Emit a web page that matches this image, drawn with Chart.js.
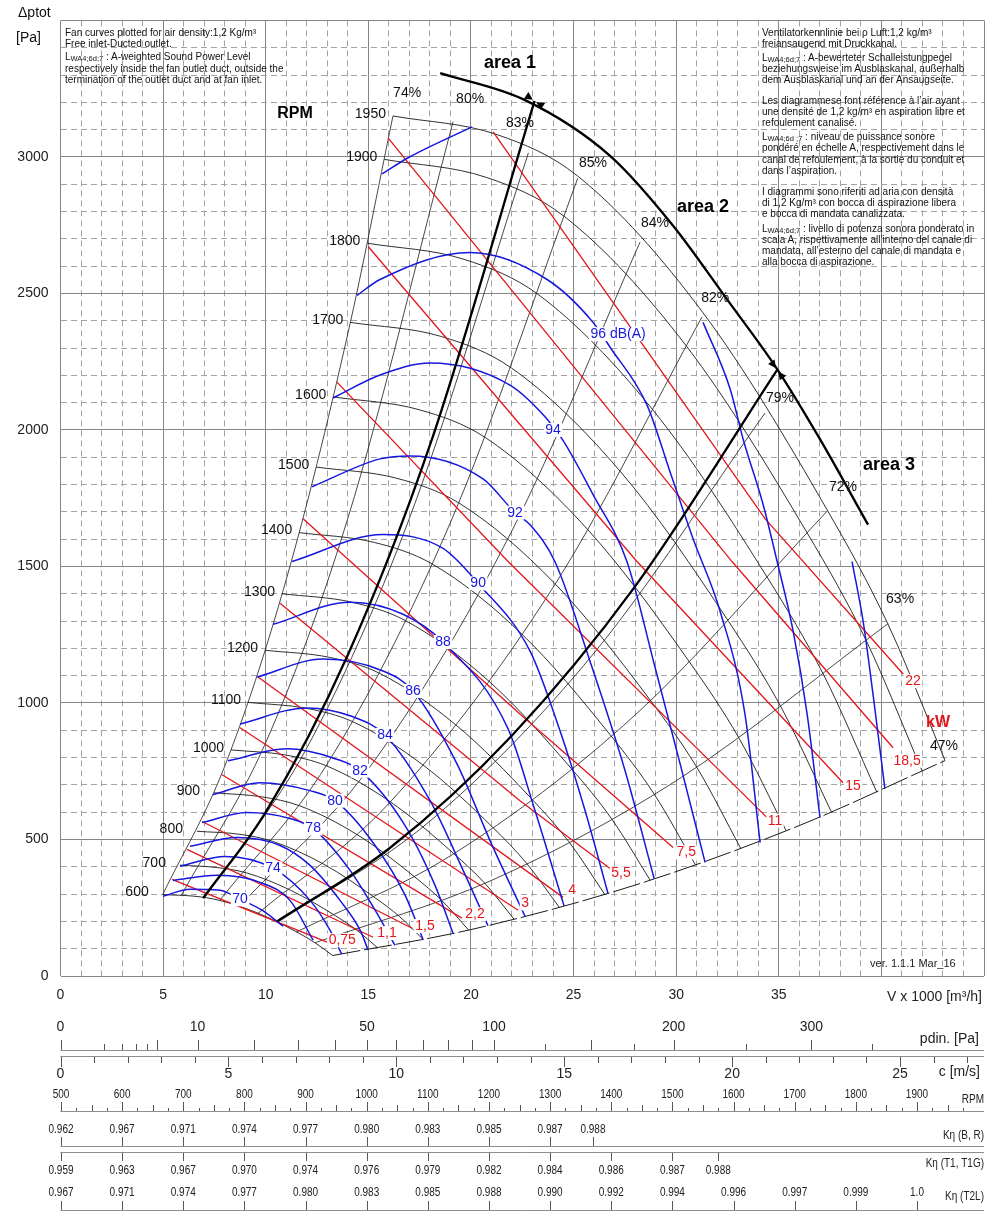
<!DOCTYPE html>
<html>
<head>
<meta charset="utf-8">
<script src="https://cdn.jsdelivr.net/npm/chart.js@4.4.1/dist/chart.umd.min.js"></script>
<style>
  html, body { margin: 0; padding: 0; background: #fff; }
  #wrap { position: relative; width: 1000px; height: 1219px; overflow: hidden;
          font-family: "Liberation Sans", Arial, sans-serif; color: #111; }
  #chart { position: absolute; left: 0; top: 0; }
  .t { position: absolute; font-size: 10px; line-height: 11px; white-space: nowrap; }
  .t .s { font-size: 7.5px; position: relative; top: 1.5px; }
  .ax { position: absolute; font-size: 14px; line-height: 16px; white-space: nowrap; }
</style>
</head>
<body>
<div id="wrap">
  <canvas id="chart" width="1000" height="1219"></canvas>
  <div class="ax" style="left:18px;top:4px">Δptot</div>
  <div class="ax" style="left:16px;top:29px">[Pa]</div>
</div>
<script>
// fan speed curves, [V x 1000 m3/h, ptot Pa]
const rpmSpeeds = [600, 700, 800, 900, 1000, 1100, 1200, 1300, 1400, 1500, 1600, 1700, 1800, 1900, 1950];
const rpmCurves = [
  [[4.98, 298], [6.55, 292], [7.75, 277], [9.63, 230], [11.49, 162], [12.40, 122], [13.26, 75]],
  [[5.82, 406], [7.65, 397], [9.05, 378], [11.24, 313], [13.41, 220], [14.47, 166], [15.47, 102]],
  [[6.65, 530], [8.74, 519], [10.34, 493], [12.84, 409], [15.32, 287], [16.53, 217], [17.68, 133]],
  [[7.48, 671], [9.83, 656], [11.63, 624], [14.45, 518], [17.24, 364], [18.60, 275], [19.89, 168]],
  [[8.31, 828], [10.92, 810], [12.92, 771], [16.05, 639], [19.15, 449], [20.67, 340], [22.10, 208]],
  [[9.14, 1002], [12.02, 980], [14.22, 932], [17.66, 773], [21.07, 544], [22.73, 411], [24.31, 251]],
  [[9.97, 1193], [13.11, 1167], [15.51, 1110], [19.26, 920], [22.98, 647], [24.80, 489], [26.52, 299]],
  [[10.80, 1400], [14.20, 1369], [16.80, 1302], [20.87, 1080], [24.90, 759], [26.87, 574], [28.73, 351]],
  [[11.63, 1624], [15.29, 1588], [18.09, 1510], [22.47, 1253], [26.82, 880], [28.93, 666], [30.94, 407]],
  [[12.46, 1864], [16.38, 1823], [19.38, 1734], [24.08, 1438], [28.73, 1011], [31.00, 765], [33.15, 467]],
  [[13.29, 2121], [17.48, 2074], [20.68, 1973], [25.68, 1636], [30.65, 1150], [33.07, 870], [35.36, 532]],
  [[14.12, 2394], [18.57, 2342], [21.97, 2227], [27.29, 1847], [32.56, 1298], [35.13, 982], [37.57, 600]],
  [[14.95, 2684], [19.66, 2625], [23.26, 2497], [28.89, 2071], [34.48, 1455], [37.20, 1101], [39.78, 673]],
  [[15.78, 2991], [20.75, 2925], [24.55, 2782], [30.50, 2307], [36.39, 1622], [39.27, 1227], [41.99, 750]],
  [[16.20, 3150], [21.30, 3081], [25.20, 2930], [31.30, 2430], [37.35, 1708], [40.30, 1292], [43.10, 790]]
];

// efficiency lines (last one is the lower dashed limit)
const effNames = ['74%', '80%', '83%', '85%', '84%', '82%', '79%', '72%', '63%', '47%'];
const effCurves = [
  [[4.98, 298], [8, 768], [11, 1452], [14, 2352], [16.2, 3150]],
  [[5.89, 296], [10, 855], [14, 1676], [19.13, 3129]],
  [[7.0, 284], [12, 835], [17, 1676], [22.8, 3015]],
  [[7.75, 276], [13, 777], [19, 1661], [25.2, 2921]],
  [[8.69, 254], [15, 758], [22, 1631], [28.24, 2688]],
  [[9.62, 229], [16, 632], [24, 1423], [31.26, 2414]],
  [[10.56, 195], [18, 567], [26, 1183], [34.33, 2062]],
  [[11.49, 161], [19, 440], [28, 956], [37.35, 1702]],
  [[12.41, 122], [21, 350], [30, 715], [40.33, 1291]],
  [[13.26, 75], [20, 170], [28, 333], [36, 551], [43.1, 789]]
];
const effLabelAt = [[16.89, 3234], [19.96, 3212], [22.39, 3124], [25.95, 2978], [28.97, 2759],
                    [31.9, 2482], [35.06, 2117], [38.13, 1792], [40.91, 1380], [43.05, 843]];

// shaft power lines
const kwNames = ['0,75', '1,1', '1,5', '2,2', '3', '4', '5,5', '7,5', '11', '15', '18,5', '22'];
const kwLines = [
  [[5.43, 354], [12.99, 124]],
  [[6.16, 464], [15.23, 142]],
  [[6.90, 566], [17.13, 175]],
  [[7.87, 737], [19.56, 212]],
  [[8.75, 909], [22.30, 241]],
  [[9.62, 1095], [24.49, 288]],
  [[10.70, 1365], [22.39, 642], [26.78, 394]],
  [[11.82, 1675], [22.39, 960], [29.85, 471]],
  [[13.47, 2175], [21.81, 1518], [34.43, 580]],
  [[14.99, 2672], [28.09, 1518], [38.13, 708]],
  [[15.96, 3070], [32.72, 1518], [40.57, 836]],
  [[21.08, 3092], [34.33, 1675], [41.06, 1106]]
];
const kwLabelAt = [[13.73, 131], [15.91, 157], [17.76, 183], [20.2, 226], [22.64, 266], [24.93, 314],
                   [27.31, 376], [30.49, 453], [34.82, 569], [38.62, 697], [41.25, 788], [41.54, 1080]];

// sound power level curves dB(A)
const dbLevels = [70, 72, 74, 76, 78, 80, 82, 84, 86, 88, 90, 92, 94, 96, 98, 100];
const dbCurves = [
  [[5.0, 292], [6.31, 318], [7.77, 314], [8.75, 281], [9.82, 241], [10.84, 183]],
  [[5.48, 350], [7.63, 369], [9.72, 343], [11.18, 277], [12.31, 131]],
  [[5.82, 402], [8.02, 438], [10.36, 394], [12.16, 277], [13.13, 168], [13.7, 80]],
  [[6.31, 475], [8.60, 507], [10.70, 478], [12.16, 405], [13.62, 277], [14.60, 168], [14.99, 95]],
  [[6.90, 562], [9.09, 599], [11.18, 577], [12.31, 540], [14.11, 387], [15.33, 241], [16.30, 112]],
  [[7.43, 664], [9.72, 708], [12.16, 679], [13.38, 642], [15.33, 478], [16.79, 296], [17.67, 133]],
  [[8.16, 788], [11.04, 832], [13.38, 796], [14.60, 752], [16.79, 551], [18.25, 332], [19.13, 156]],
  [[8.75, 923], [12.01, 982], [14.11, 953], [15.81, 883], [18.01, 642], [19.62, 387], [20.83, 184]],
  [[9.58, 1095], [12.79, 1161], [15.72, 1117], [17.18, 1044], [19.32, 777], [20.93, 496], [22.64, 218]],
  [[10.36, 1288], [14.11, 1369], [16.69, 1325], [18.64, 1223], [21.81, 905], [23.12, 606], [24.54, 256]],
  [[11.28, 1518], [15.72, 1617], [18.64, 1566], [20.35, 1438], [22.88, 1190], [24.34, 898], [25.56, 606], [26.68, 302]],
  [[12.26, 1792], [15.57, 1894], [17.03, 1905], [20.59, 1821], [22.15, 1697], [22.88, 1653], [24.09, 1518], [25.80, 1153], [27.51, 752], [28.93, 356]],
  [[13.28, 2117], [15.57, 2201], [18.01, 2245], [21.90, 2164], [23.61, 2048], [24.44, 1967], [25.95, 1763], [27.6, 1518], [28.98, 1128], [30.24, 763], [31.41, 416]],
  [[14.45, 2493], [15.57, 2551], [19.96, 2650], [23.71, 2551], [25.95, 2394], [26.78, 2303], [28.58, 2091], [29.70, 1847], [30.82, 1602], [32.14, 1336], [33.35, 960], [34.09, 489]],
  [[31.31, 2394], [32.63, 2150], [33.26, 1967], [34.24, 1726], [34.92, 1518], [35.70, 1263], [36.38, 960], [37.01, 580]],
  [[38.57, 1518], [39.11, 1299], [39.59, 1033], [40.17, 686]]
];
const db98Arc = [[15.67, 2938], [16.94, 2997], [20.05, 3110]];
const dbNames = ['70', '74', '78', '80', '82', '84', '86', '88', '90', '92', '94', '96 dB(A)'];
const dbLabelAt = [[8.75, 281], [10.36, 394], [12.31, 540], [13.38, 642], [14.60, 752], [15.81, 883],
                   [17.18, 1044], [18.64, 1223], [20.35, 1438], [22.15, 1697], [24.0, 2000], [27.17, 2351]];

// working area limits
const areaTop = [[18.5, 3307], [22.64, 3208], [26.78, 3004], [29.85, 2748], [32.48, 2478], [34.92, 2223], [37.0, 1967], [39.35, 1653]];
const area12 = [[6.95, 285], [10, 600], [14, 1176], [18, 1944], [23.1, 3205]];
const area23 = [[10.55, 200], [16, 466], [22, 881], [28, 1427], [34.92, 2220]];
const areaNames = ['area 1', 'area 2', 'area 3'];
const areaLabelAt = [[21.9, 3343], [31.31, 2818], [40.37, 1872]];

// axes
const xTickLabels = [0, 5, 10, 15, 20, 25, 30, 35];
const yTickLabels = [0, 500, 1000, 1500, 2000, 2500, 3000];

// nomogram scales under the chart
const pdinTicks = [0, 1, 2, 3, 4, 5, 10, 20, 30, 40, 50, 60, 70, 80, 90, 100, 125, 150, 175, 200, 250, 300, 350];
const pdinShort = [1, 2, 3, 4, 125, 175, 250, 350];
const pdinLabels = [0, 10, 50, 100, 200, 300];
const cLabels = [0, 5, 10, 15, 20, 25];
const rpmScaleLabels = [500, 600, 700, 800, 900, 1000, 1100, 1200, 1300, 1400, 1500, 1600, 1700, 1800, 1900];
const knBRRpm = [500, 600, 700, 800, 900, 1000, 1100, 1200, 1300, 1370];
const knBR = ['0.962', '0.967', '0.971', '0.974', '0.977', '0.980', '0.983', '0.985', '0.987', '0.988'];
const knT1Rpm = [500, 600, 700, 800, 900, 1000, 1100, 1200, 1300, 1400, 1500, 1575];
const knT1 = ['0.959', '0.963', '0.967', '0.970', '0.974', '0.976', '0.979', '0.982', '0.984', '0.986', '0.987', '0.988'];
const knT2Rpm = [500, 600, 700, 800, 900, 1000, 1100, 1200, 1300, 1400, 1500, 1600, 1700, 1800, 1900];
const knT2 = ['0.967', '0.971', '0.974', '0.977', '0.980', '0.983', '0.985', '0.988', '0.990', '0.992', '0.994', '0.996', '0.997', '0.999', '1.0'];

const leftNotes = [
  'Fan curves plotted for air density:1,2 Kg/m³',
  'Free inlet-Ducted outlet.',
  'L<span class="s">WA4;6d;7</span> : A-weighted Sound Power Level',
  'respectively inside the fan outlet duct, outside the',
  'termination of the outlet duct and at fan inlet.'
];
const rightNotes = [
  'Ventilatorkennlinie bei ρ Luft:1,2 kg/m³',
  'freiansaugend mit Druckkanal.',
  'L<span class="s">WA4;6d;7</span> : A-bewerteter Schalleistungpegel',
  'beziehungsweise im Ausblaskanal, außerhalb',
  'dem Ausblaskanal und an der Ansaugseite.',
  'Les diagrammese font référence à l’air ayant',
  'une densité de 1,2 kg/m³ en aspiration libre et',
  'refoulement canalisé.',
  'L<span class="s">WA4;6d ;7</span> : niveau de puissance sonore',
  'pondéré en échelle A, respectivement dans le',
  'canal de refoulement, à la sortie du conduit et',
  'dans l’aspiration.',
  'I diagrammi sono riferiti ad aria con densità',
  'di 1,2 Kg/m³ con bocca di aspirazione libera',
  'e bocca di mandata canalizzata.',
  'L<span class="s">WA4;6d;7</span> : livello di potenza sonora ponderato in',
  'scala A, rispettivamente all’interno del canale di',
  'mandata, all’esterno del canale di mandata e',
  'alla bocca di aspirazione.'
];
const leftNoteY = [32, 43, 56, 68, 79];
const rightNoteY = [32, 43, 57, 68, 79, 100, 111, 122, 136, 147, 159, 170, 191, 202, 213, 228, 239, 250, 261];

const wrap = document.getElementById('wrap');
function addNote(html, x, y) {
  const d = document.createElement('div');
  d.className = 't';
  d.style.left = x + 'px';
  d.style.top = (y - 5.5) + 'px';
  d.innerHTML = html;
  wrap.appendChild(d);
}
leftNotes.forEach((s, i) => addNote(s, 65, leftNoteY[i]));
rightNotes.forEach((s, i) => addNote(s, 762, rightNoteY[i]));

const FONT = '"Liberation Sans", Arial, sans-serif';
const pts = a => a.map(([x, y]) => ({x, y}));
const line = (data, color, width, order, extra) => Object.assign({
  data: pts(data), showLine: true, borderColor: color, borderWidth: width,
  pointRadius: 0, pointHoverRadius: 0, fill: false, order: order,
  cubicInterpolationMode: 'monotone'
}, extra || {});

const datasets = [];
areaTop && datasets.push(line(areaTop, '#000', 2.3, 1));
datasets.push(line(area12, '#000', 2.3, 1));
datasets.push(line(area23, '#000', 2.3, 1));
dbCurves.forEach(c => datasets.push(line(c, '#1717e0', 1.5, 2)));
datasets.push(line(db98Arc, '#1717e0', 1.5, 2));
kwLines.forEach(c => datasets.push(line(c, '#e3161c', 1.3, 3, {cubicInterpolationMode: 'default', tension: 0})));
effCurves.forEach((c, i) => datasets.push(line(c, '#1a1a1a', i === effCurves.length - 1 ? 1 : 0.8, 4,
  i === effCurves.length - 1 ? {borderDash: [28, 4]} : {})));
rpmCurves.forEach(c => datasets.push(line(c, '#1a1a1a', 0.9, 4)));

function textBox(ctx, t, px, py, color, font) {
  ctx.font = font;
  const w = ctx.measureText(t).width;
  ctx.fillStyle = '#fff';
  ctx.fillRect(px - w / 2 - 1.5, py - 7, w + 3, 14);
  ctx.fillStyle = color;
  ctx.fillText(t, px, py);
}

const labelPlugin = {
  id: 'curveLabels',
  afterDatasetsDraw(chart) {
    const {ctx, scales: {x, y}} = chart;
    const P = (v, p) => [x.getPixelForValue(v), y.getPixelForValue(p)];
    ctx.save();
    ctx.textBaseline = 'middle';

    // arrow heads where the area limits meet the upper limit
    ctx.fillStyle = '#000';
    [area12[area12.length - 1], area23[area23.length - 1]].forEach(pt => {
      const [cx, cy] = P(pt[0], pt[1]);
      let k = 1;
      while (k < areaTop.length - 1 && areaTop[k][0] < pt[0]) k++;
      const [ax, ay] = P(areaTop[k - 1][0], areaTop[k - 1][1]);
      const [bx, by] = P(areaTop[k][0], areaTop[k][1]);
      const len = Math.hypot(bx - ax, by - ay);
      const ux = (bx - ax) / len, uy = (by - ay) / len;
      [-1, 1].forEach(s => {
        const tx = cx + s * 2 * ux, ty = cy + s * 2 * uy;
        const bxx = cx + s * 10 * ux, byy = cy + s * 10 * uy;
        ctx.beginPath();
        ctx.moveTo(tx, ty);
        ctx.lineTo(bxx - uy * 4, byy + ux * 4);
        ctx.lineTo(bxx + uy * 4, byy - ux * 4);
        ctx.closePath();
        ctx.fill();
      });
    });

    // rpm labels
    ctx.font = '14px ' + FONT;
    ctx.textAlign = 'right';
    ctx.fillStyle = '#111';
    rpmSpeeds.forEach((n, i) => {
      const [px, py] = P(rpmCurves[i][0][0], rpmCurves[i][0][1]);
      ctx.fillText(String(n), px - (n < 1000 ? 14 : 7), py - 2);
    });

    ctx.textAlign = 'center';
    // efficiency labels
    effNames.forEach((t, i) => {
      const [px, py] = P(effLabelAt[i][0], effLabelAt[i][1]);
      ctx.fillText(t, px, py);
    });
    // kW labels
    kwNames.forEach((t, i) => {
      const [px, py] = P(kwLabelAt[i][0], kwLabelAt[i][1]);
      textBox(ctx, t, px, py, '#e3161c', '14px ' + FONT);
    });
    // dB labels
    dbNames.forEach((t, i) => {
      const [px, py] = P(dbLabelAt[i][0], dbLabelAt[i][1]);
      textBox(ctx, t, px, py, '#1717e0', '14px ' + FONT);
    });

    ctx.fillStyle = '#e3161c';
    ctx.font = 'bold 16px ' + FONT;
    let q = P(42.76, 927);
    ctx.fillText('kW', q[0], q[1]);

    ctx.fillStyle = '#000';
    q = P(11.43, 3157);
    ctx.fillText('RPM', q[0], q[1]);
    ctx.font = 'bold 18px ' + FONT;
    areaNames.forEach((t, i) => {
      const [px, py] = P(areaLabelAt[i][0], areaLabelAt[i][1]);
      ctx.fillText(t, px, py);
    });

    ctx.font = '11px ' + FONT;
    ctx.textAlign = 'left';
    ctx.fillStyle = '#222';
    q = P(39.45, 44);
    ctx.fillText('ver. 1.1.1 Mar_16', q[0], q[1]);
    ctx.restore();
  }
};

const nomoPlugin = {
  id: 'nomogram',
  afterDraw(chart) {
    const {ctx, chartArea} = chart;
    const cs = chart.scales.cs, rs = chart.scales.rs;
    const x0 = cs.getPixelForValue(0), x1 = chartArea.right;
    ctx.save();
    ctx.lineWidth = 1;
    const hl = yy => {
      ctx.strokeStyle = '#8e8e8e';
      ctx.beginPath(); ctx.moveTo(x0, yy + 0.5); ctx.lineTo(x1, yy + 0.5); ctx.stroke();
    };
    const tk = (xx, ya, yb) => {
      const xr = Math.round(xx) + 0.5;
      ctx.strokeStyle = '#555';
      ctx.beginPath(); ctx.moveTo(xr, ya); ctx.lineTo(xr, yb); ctx.stroke();
    };
    const narrow = (t, px, py, align) => {
      ctx.save(); ctx.translate(px, py); ctx.scale(0.8, 1);
      ctx.textAlign = align; ctx.fillText(t, 0, 0); ctx.restore();
    };
    const cPix = c => cs.getPixelForValue(c);
    const pdinPix = p => cPix(Math.sqrt(p / 0.6));

    ctx.fillStyle = '#222';
    ctx.textBaseline = 'middle';

    // main x axis title
    ctx.font = '14px ' + FONT;
    ctx.textAlign = 'right';
    ctx.fillText('V x 1000 [m³/h]', 982, 997);

    // dynamic pressure
    hl(1050);
    pdinTicks.forEach(p => tk(pdinPix(p), pdinShort.includes(p) ? 1044 : 1040, 1050));
    ctx.textAlign = 'center';
    pdinLabels.forEach(p => ctx.fillText(String(p), pdinPix(p), 1027));
    ctx.textAlign = 'right';
    ctx.fillText('pdin. [Pa]', 979, 1039);

    // outlet velocity
    hl(1056);
    for (let c = 0; c <= 27; c++) tk(cPix(c), 1057, c % 5 === 0 ? 1067 : 1063);
    ctx.textAlign = 'center';
    cLabels.forEach(c => ctx.fillText(String(c), cPix(c), 1074));
    ctx.textAlign = 'right';
    ctx.fillText('c [m/s]', 980, 1072);

    // rpm row
    ctx.font = '12.5px ' + FONT;
    hl(1111);
    for (let r = 500; r <= 1975; r += 25) {
      const len = r % 100 === 0 ? 9 : (r % 50 === 0 ? 6 : 3);
      tk(rs.getPixelForValue(r), 1111 - len, 1111);
    }
    rpmScaleLabels.forEach(r => narrow(String(r), rs.getPixelForValue(r), 1095, 'center'));
    narrow('RPM', 984, 1100, 'right');

    // K eta rows
    hl(1146);
    knBRRpm.forEach((r, i) => {
      tk(rs.getPixelForValue(r), 1137, 1146);
      narrow(knBR[i], rs.getPixelForValue(r), 1130, 'center');
    });
    narrow('Kη (B, R)', 984, 1136, 'right');

    hl(1152);
    knT1Rpm.forEach((r, i) => {
      tk(rs.getPixelForValue(r), 1153, 1161);
      narrow(knT1[i], rs.getPixelForValue(r), 1171, 'center');
    });
    narrow('Kη (T1, T1G)', 984, 1164, 'right');

    hl(1210);
    knT2Rpm.forEach((r, i) => {
      tk(rs.getPixelForValue(r), 1201, 1210);
      narrow(knT2[i], rs.getPixelForValue(r), 1193, 'center');
    });
    narrow('Kη (T2L)', 984, 1197, 'right');
    ctx.restore();
  }
};

const gridColor = step => c => (c.tick && c.tick.value % step === 0) ? '#858585' : '#a3a3a3';
const gridDash = step => c => (c.tick && c.tick.value % step !== 0) ? [6, 4] : [];

new Chart(document.getElementById('chart'), {
  type: 'scatter',
  data: {datasets},
  options: {
    responsive: false,
    animation: false,
    events: [],
    layout: {padding: {left: 0, right: 16, top: 17, bottom: 213}},
    plugins: {legend: {display: false}, tooltip: {enabled: false}},
    scales: {
      x: {
        type: 'linear', min: 0, max: 45,
        afterFit: s => { s.height = 30; },
        ticks: {
          stepSize: 1, autoSkip: false, maxRotation: 0, padding: 11, color: '#222',
          font: {family: FONT, size: 14},
          callback: v => xTickLabels.includes(v) ? String(v) : ''
        },
        grid: {drawTicks: false, lineWidth: 1, color: gridColor(5)},
        border: {display: false, dash: gridDash(5)}
      },
      y: {
        type: 'linear', min: 0, max: 3500,
        afterFit: s => { s.width = 60.5; },
        ticks: {
          stepSize: 100, autoSkip: false, padding: 12, color: '#222',
          font: {family: FONT, size: 14},
          callback: v => yTickLabels.includes(v) ? String(v) : ''
        },
        grid: {drawTicks: false, lineWidth: 1, color: gridColor(500)},
        border: {display: false, dash: gridDash(500)}
      },
      cs: {type: 'linear', axis: 'x', display: false, min: 0, max: 27.5},
      rs: {type: 'linear', axis: 'x', display: false, min: 499.2, max: 2009.6}
    }
  },
  plugins: [labelPlugin, nomoPlugin]
});
</script>
</body>
</html>
